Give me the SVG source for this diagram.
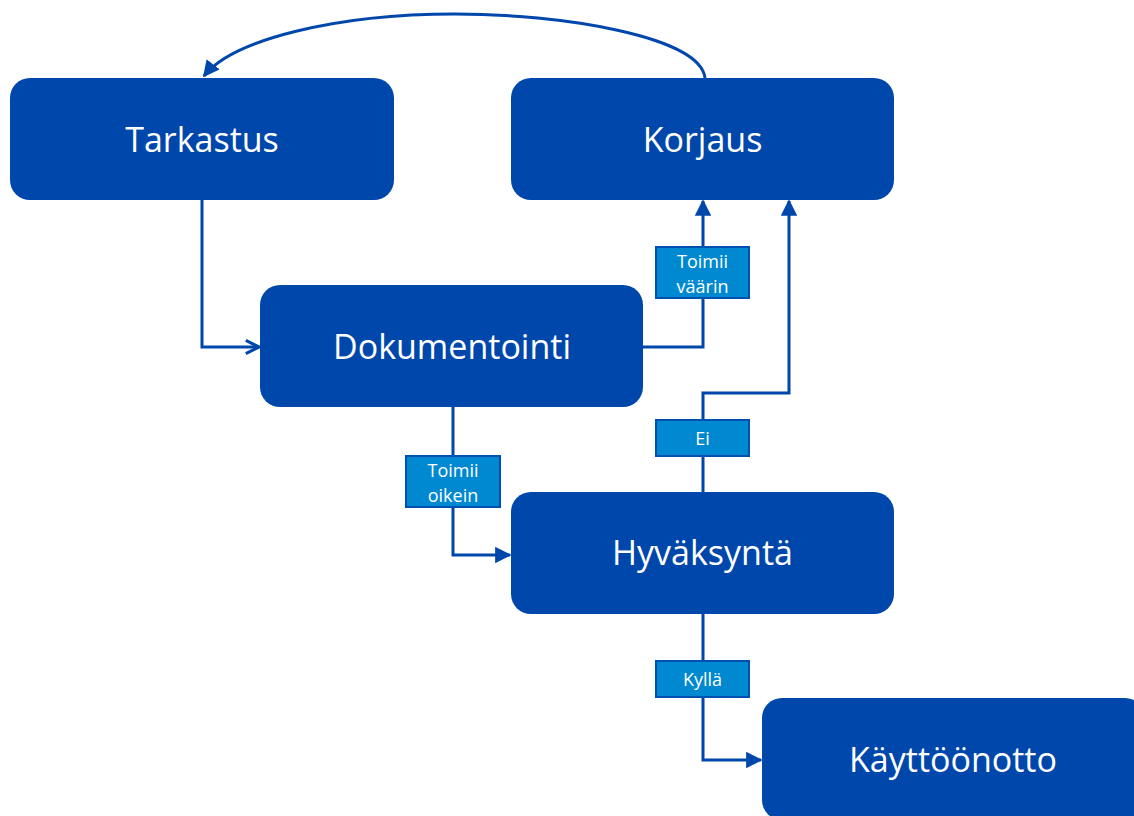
<svg xmlns="http://www.w3.org/2000/svg" width="1134" height="816" viewBox="0 0 1134 816">
  <style>
    .node { fill: #0047AB; }
    .node-text { fill: #ffffff; font-family: "Open Sans", "Liberation Sans", sans-serif; font-size: 34px; text-anchor: middle; dominant-baseline: central; }
    .edge { fill: none; stroke: #0047AB; stroke-width: 3; }
    .tag { fill: #0088D1; stroke: #0050B0; stroke-width: 2; }
    .tag-text { fill: #ffffff; font-family: "Open Sans", "Liberation Sans", sans-serif; font-size: 18px; text-anchor: middle; }
  </style>
  <defs>
    <marker id="arrow-filled" viewBox="0 0 10 10" refX="9" refY="5" markerWidth="5.5" markerHeight="5.5" orient="auto" markerUnits="strokeWidth">
      <path d="M0,0 L10,5 L0,10 Z" fill="#0047AB"/>
    </marker>
    <marker id="arrow-open" viewBox="0 0 10 10" refX="9" refY="5" markerWidth="5.5" markerHeight="5.5" orient="auto" markerUnits="strokeWidth">
      <path d="M1,1 L9,5 L1,9" fill="none" stroke="#0047AB" stroke-width="1.8"/>
    </marker>
  </defs>

  <rect width="1134" height="816" fill="#ffffff"/>

  <g id="connectors">
    <!-- loop back from Korjaus to Tarkastus -->
    <path class="edge" d="M705,78 C700,36 560,14 455,14 C335,14 232,40 204,76" marker-end="url(#arrow-filled)"/>
    <!-- Tarkastus to Dokumentointi -->
    <path class="edge" d="M202,200 V347 H259" marker-end="url(#arrow-open)"/>
    <!-- Dokumentointi to Korjaus -->
    <path class="edge" d="M643,347 H703 V201" marker-end="url(#arrow-filled)"/>
    <!-- Dokumentointi to Hyväksyntä -->
    <path class="edge" d="M453,407 V555 H510" marker-end="url(#arrow-filled)"/>
    <!-- Hyväksyntä to Korjaus -->
    <path class="edge" d="M703,492 V393 H789 V201" marker-end="url(#arrow-filled)"/>
    <!-- Hyväksyntä to Käyttöönotto -->
    <path class="edge" d="M703,614 V760 H761" marker-end="url(#arrow-filled)"/>

    <g id="label-toimii-vaarin">
      <rect class="tag" x="656" y="247" width="93" height="51"/>
      <text class="tag-text" x="702.5" y="268">Toimii</text>
      <text class="tag-text" x="702.5" y="293">väärin</text>
    </g>
    <g id="label-toimii-oikein">
      <rect class="tag" x="406" y="456" width="94" height="51"/>
      <text class="tag-text" x="453" y="477">Toimii</text>
      <text class="tag-text" x="453" y="502">oikein</text>
    </g>
    <g id="label-ei">
      <rect class="tag" x="656" y="420" width="93" height="36"/>
      <text class="tag-text" x="702.5" y="444.5">Ei</text>
    </g>
    <g id="label-kylla">
      <rect class="tag" x="656" y="661" width="93" height="36"/>
      <text class="tag-text" x="702.5" y="685.5">Kyllä</text>
    </g>
  </g>

  <g id="node-tarkastus">
    <rect class="node" x="10" y="78" width="384" height="122" rx="20"/>
    <text class="node-text" x="202" y="139">Tarkastus</text>
  </g>
  <g id="node-korjaus">
    <rect class="node" x="511" y="78" width="383" height="122" rx="20"/>
    <text class="node-text" x="702.5" y="139">Korjaus</text>
  </g>
  <g id="node-dokumentointi">
    <rect class="node" x="260" y="285" width="383" height="122" rx="20"/>
    <text class="node-text" x="452" y="346">Dokumentointi</text>
  </g>
  <g id="node-hyvaksynta">
    <rect class="node" x="511" y="492" width="383" height="122" rx="20"/>
    <text class="node-text" x="702.5" y="552">Hyväksyntä</text>
  </g>
  <g id="node-kayttoonotto">
    <rect class="node" x="762" y="698" width="383" height="122" rx="20"/>
    <text class="node-text" x="953" y="759">Käyttöönotto</text>
  </g>
</svg>
